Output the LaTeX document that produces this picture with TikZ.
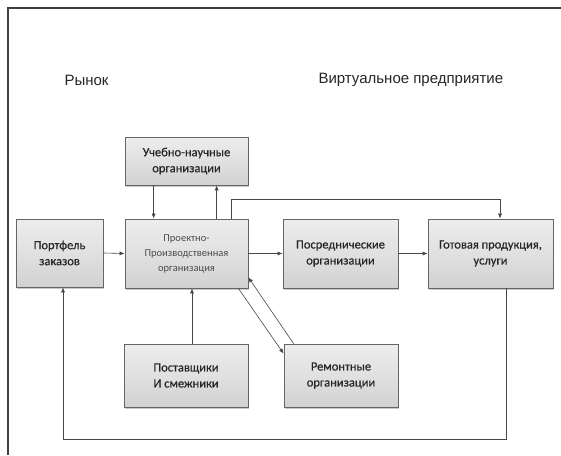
\documentclass[tikz,border=0pt]{standalone}
\usepackage{fontspec}
\setmainfont{Liberation Sans}
\newfontfamily\boxfont[FakeBold=0.4]{Carlito}
\newfontfamily\boxfontlight{Carlito}
\usetikzlibrary{arrows.meta,shadows,calc}
\begin{document}
\begin{tikzpicture}[x=1pt,y=-1pt,
  boxst/.style={draw=black!60, line width=0.7pt, rectangle, align=center,
    top color=gray!14, bottom color=gray!36, middle color=gray!24,
    drop shadow={shadow xshift=1.2pt, shadow yshift=-1.5pt, opacity=0.35, fill=black!60},
    font=\boxfont\fontsize{12.5}{16}\selectfont, text=black!85, inner sep=2pt},
  arr/.style={draw=black!72, line width=0.6pt, -{Latex[length=5pt,width=4pt]}},
  ttl/.style={font=\fontsize{15}{18}\selectfont, text=black!85, anchor=west}]
\useasboundingbox (0,0) rectangle (561,455);
\fill[white] (0,0) rectangle (561,455);
\draw[line width=1.8pt, black!75] (8,455) -- (8,8) -- (561,8);

\node[ttl] (rynok) at (61,80) {Рынок};
\node[ttl] (virt) at (315,80) {Виртуальное предприятие};

\node[boxst, minimum width=123, minimum height=48] (uch) at (186.5,161) {Учебно-научные\\организации};
\node[boxst, minimum width=87, minimum height=68] (port) at (59.5,253) {Портфель\\заказов};
\node[boxst, minimum width=123, minimum height=69, font=\boxfontlight\fontsize{10.5}{15}\selectfont, text=black!70] (proj) at (186.5,253.5) {Проектно-\\Производственная\\организация};
\node[boxst, minimum width=115, minimum height=69] (posr) at (340.5,253.5) {Посреднические\\организации};
\node[boxst, minimum width=125, minimum height=69] (got) at (490.5,253.5) {Готовая продукция,\\услуги};
\node[boxst, minimum width=124, minimum height=63] (post) at (186,375.5) {Поставщики\\И смежники};
\node[boxst, minimum width=114, minimum height=63] (rem) at (341,375.5) {Ремонтные\\организации};

\coordinate (topc) at (500,199);
\coordinate (botc) at (63,439);

\draw[arr] ([xshift=29pt]uch.south west) -- ([xshift=29pt]proj.north west);
\draw[arr] ([xshift=92pt]proj.north west) -- ([xshift=92pt]uch.south west);
\draw[arr] ([xshift=107pt]proj.north west) |- (topc) -- ([xshift=9.5pt]got.north);
\draw[arr] (port.east) -- (proj.west);
\draw[arr] (proj.east) -- (posr.west);
\draw[arr] (posr.east) -- (got.west);
\draw[arr] ([xshift=6pt]post.north) -- ([xshift=6pt]post.north |- proj.south);
\draw[arr] ([xshift=-10pt]proj.south east) -- ([yshift=-10pt]rem.north west);
\draw[arr] ([xshift=10pt]rem.north west) -- ([yshift=11pt]proj.south east);
\draw[arr] ([xshift=15.5pt]got.south) |- (botc) -- ([xshift=3.5pt]port.south);
\end{tikzpicture}
\end{document}
